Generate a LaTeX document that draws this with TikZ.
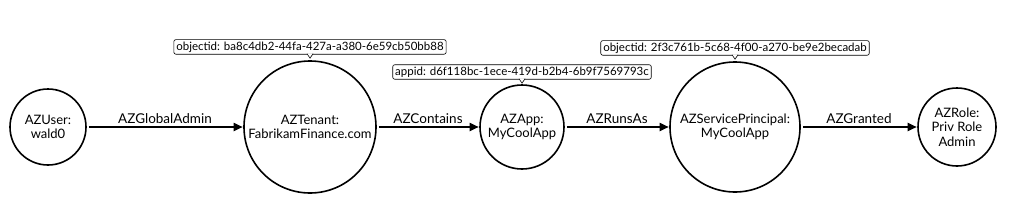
\documentclass[tikz,border=0pt]{standalone}
\usepackage{fontspec}
\setmainfont{Lato}
\usetikzlibrary{positioning,arrows.meta}

\begin{document}
\begin{tikzpicture}[
  x=1pt,y=-1pt,
  obj/.style={draw,circle,line width=1.6pt,inner sep=0pt,align=center,font=\fontsize{13}{14.5}\selectfont},
  rel/.style={-{Triangle[length=9pt,width=8pt]},line width=1.8pt,shorten <=2pt,shorten >=0.5pt},
  lbl/.style={above=1pt,midway,font=\fontsize{13.5}{14}\selectfont,inner sep=1pt},
  tag/.style={draw,rounded corners=2pt,fill=white,line width=0.6pt,outer sep=0pt,inner xsep=2.5pt,inner ysep=2pt,font=\fontsize{11.5}{12}\selectfont,anchor=south},
  notch/.style={line width=0.6pt,fill=white}]
  \useasboundingbox (0,0) rectangle (1024,212);
  % the five objects
  \node (user) [obj,minimum size=76pt] at (48,127) {AZUser:\\wald0};
  \node (tenant) [obj,minimum size=132pt] at (310,127) {AZTenant:\\FabrikamFinance.com};
  \node (app) [obj,minimum size=84pt] at (522,127) {AZApp:\\MyCoolApp};
  \node (sp) [obj,minimum size=130pt] at (735,127) {AZServicePrincipal:\\MyCoolApp};
  \node (role) [obj,minimum size=78pt] at (957,127) {AZRole:\\Priv Role\\Admin};
  % edges
  \draw[rel] (user) -- (tenant) node[lbl] {AZGlobalAdmin};
  \draw[rel] (tenant) -- (app) node[lbl] {AZContains};
  \draw[rel] (app) -- (sp) node[lbl] {AZRunsAs};
  \draw[rel] (sp) -- (role) node[lbl] {AZGranted};
  % id callouts
  \node (tenantid) [tag] at ([yshift=6pt]tenant.north) {objectid: ba8c4db2-44fa-427a-a380-6e59cb50bb88};
  \node (appid) [tag] at ([yshift=5pt]app.north) {appid: d6f118bc-1ece-419d-b2b4-6b9f7569793c};
  \node (spid) [tag] at ([yshift=6pt]sp.north) {objectid: 2f3c761b-5c68-4f00-a270-be9e2becadab};
  \foreach \t in {tenantid,appid,spid}
    \draw[notch] ([xshift=-3pt,yshift=0.5pt]\t.south) -- ++(3,4.5) -- ++(3,-4.5);
\end{tikzpicture}
\end{document}
